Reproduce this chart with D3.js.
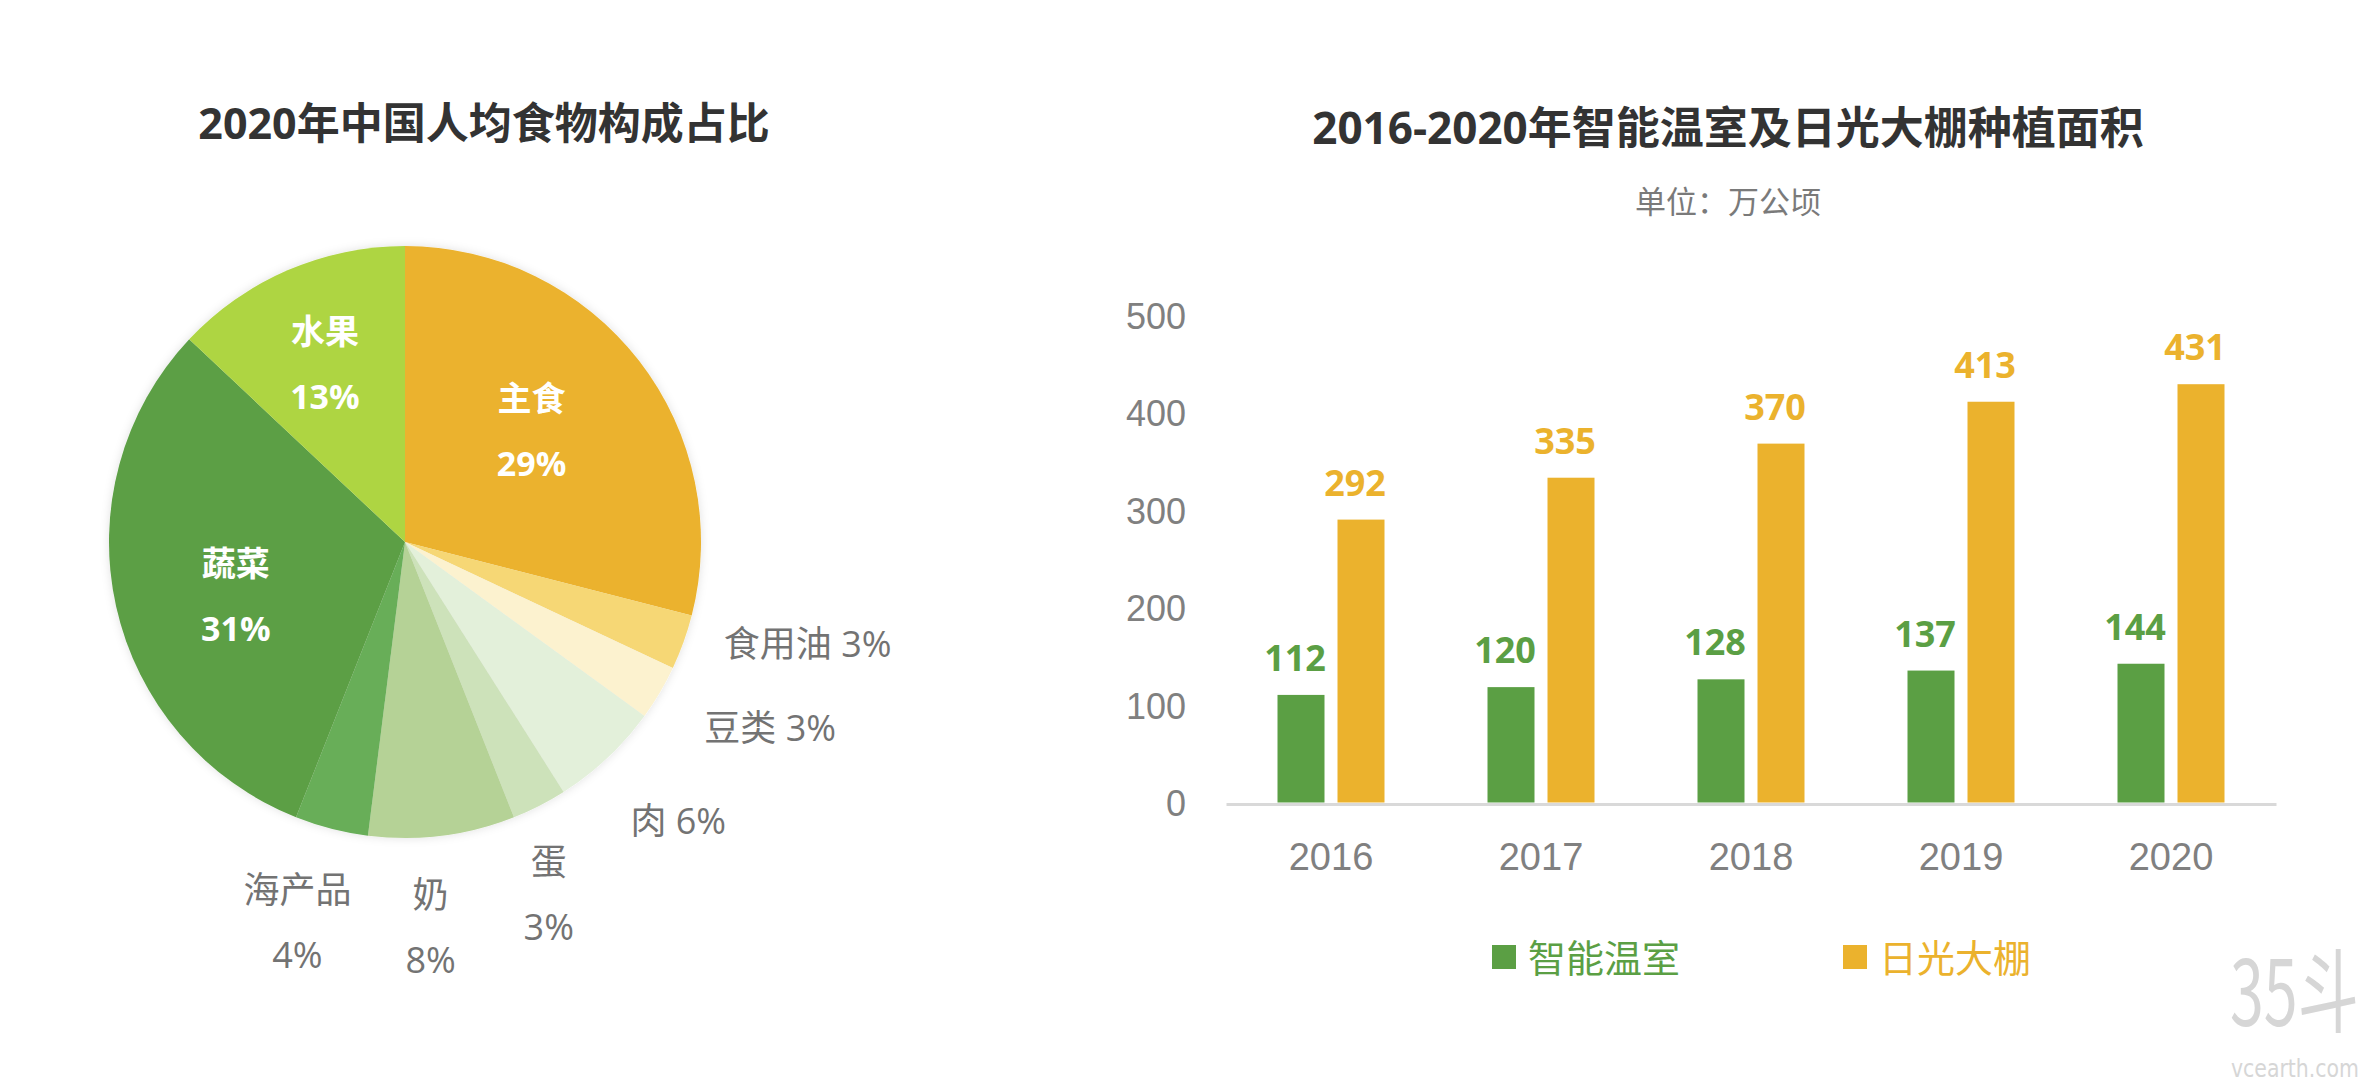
<!DOCTYPE html>
<html>
<head>
<meta charset="utf-8">
<script src="https://cdn.jsdelivr.net/npm/d3@7"></script>
<style>
  html, body { margin: 0; padding: 0; background: #fff; }
  svg { display: block; font-family: 'Open Sans', 'Noto Sans CJK SC', sans-serif; }
</style>
</head>
<body>
<div id="chart"></div>
<script>
// pie data
const foodNames = ['主食', '食用油', '豆类', '肉', '蛋', '奶', '海产品', '蔬菜', '水果']
const foodShares = [29, 3, 3, 6, 3, 8, 4, 31, 13]
const foodColors = ['#ebb22d', '#f6d774', '#fcf2cf', '#e3f0da', '#cde2ba', '#b5d296', '#67ae58', '#5b9f44', '#aed542']

// bar data
const years = ['2016', '2017', '2018', '2019', '2020']
const seriesNames = ['智能温室', '日光大棚']
const smartGreenhouse = [112, 120, 128, 137, 144]
const solarGreenhouse = [292, 335, 370, 413, 431]
const yTicks = [0, 100, 200, 300, 400, 500]
const seriesColors = ['#5b9f44', '#ebb22d']

const width = 2376
const height = 1088

const svg = d3.select('#chart')
  .append('svg')
  .attr('width', width)
  .attr('height', height)

svg.append('rect').attr('width', width).attr('height', height).attr('fill', '#fff')

const defs = svg.append('defs')
const shadow = defs.append('filter').attr('id', 'pieShadow')
  .attr('x', '-10%').attr('y', '-10%').attr('width', '120%').attr('height', '120%')
shadow.append('feDropShadow')
  .attr('dx', 0).attr('dy', 0).attr('stdDeviation', 5)
  .attr('flood-color', '#000').attr('flood-opacity', 0.12)

// ---------- pie ----------
svg.append('text')
  .attr('x', 484).attr('y', 122)
  .attr('text-anchor', 'middle')
  .attr('dominant-baseline', 'central')
  .attr('font-size', 43).attr('font-weight', 700)
  .attr('fill', '#333')
  .text('2020年中国人均食物构成占比')

const cx = 405, cy = 542, R = 296
const pieG = svg.append('g').attr('transform', `translate(${cx},${cy})`)

const pie = d3.pie().sort(null).value(d => d)
const arcs = pie(foodShares)
const arc = d3.arc().innerRadius(0).outerRadius(R)

pieG.append('g').attr('filter', 'url(#pieShadow)')
  .selectAll('path')
  .data(arcs)
  .enter()
    .append('path')
    .attr('d', arc)
    .attr('fill', (d, i) => foodColors[i])

// label placement: radius factor, angle nudge (deg), inside/outside, one or two lines
const labelPlace = {
  '主食':   { k: 0.57, da: -3.6, inside: true },
  '食用油': { k: 1.13, da: -2.2, oneLine: true },
  '豆类':   { k: 1.19, da: 1.2, oneLine: true },
  '肉':     { k: 1.21, da: 4.2, oneLine: true },
  '蛋':     { k: 1.285, da: 4.8 },
  '奶':     { k: 1.305, da: 3.4 },
  '海产品': { k: 1.335, da: 1.4 },
  '蔬菜':   { k: 0.60, da: -5.1, inside: true },
  '水果':   { k: 0.66, da: -0.8, inside: true },
}

arcs.forEach((a, i) => {
  const name = foodNames[i]
  const p = labelPlace[name]
  const theta = (a.startAngle + a.endAngle) / 2 + p.da * Math.PI / 180
  const lx = Math.sin(theta) * R * p.k
  const ly = -Math.cos(theta) * R * p.k
  const pct = foodShares[i] + '%'
  const g = pieG.append('g').attr('transform', `translate(${lx},${ly})`)
  if (p.oneLine) {
    g.append('text')
      .attr('text-anchor', 'start')
      .attr('dominant-baseline', 'central')
      .attr('font-size', 36)
      .attr('fill', '#737373')
      .text(name + ' ' + pct)
  } else {
    const lines = [name, pct]
    g.selectAll('text')
      .data(lines)
      .enter()
        .append('text')
        .attr('y', (d, j) => (j - 0.5) * 65)
        .attr('text-anchor', 'middle')
        .attr('dominant-baseline', 'central')
        .attr('font-size', p.inside ? 34 : 36)
        .attr('font-weight', p.inside ? 700 : 400)
        .attr('fill', p.inside ? '#fff' : '#737373')
        .text(d => d)
  }
})

// ---------- bars ----------
svg.append('text')
  .attr('x', 1728).attr('y', 127)
  .attr('text-anchor', 'middle')
  .attr('dominant-baseline', 'central')
  .attr('font-size', 44).attr('font-weight', 700)
  .attr('fill', '#333')
  .text('2016-2020年智能温室及日光大棚种植面积')

svg.append('text')
  .attr('x', 1728).attr('y', 201)
  .attr('text-anchor', 'middle')
  .attr('dominant-baseline', 'central')
  .attr('font-size', 31)
  .attr('fill', '#7a7a7a')
  .text('单位：万公顷')

const x = d3.scaleBand().domain(years).range([1226, 2276])
const x1 = d3.scaleBand().domain(seriesNames).range([-53.5, 53.5]).paddingInner(13 / 60)
const y = d3.scaleLinear().domain([0, 500]).range([804, 317])

const yAxis = svg.append('g')
  .attr('transform', 'translate(1186,0)')
  .call(d3.axisLeft(y).tickValues(yTicks).tickSize(0).tickPadding(0))
yAxis.select('.domain').remove()
yAxis.selectAll('text')
  .attr('font-size', 36)
  .attr('font-family', null)
  .attr('fill', '#808080')

const xAxis = svg.append('g')
  .attr('transform', 'translate(0,804)')
  .call(d3.axisBottom(x).tickSize(0).tickSizeOuter(0).tickPadding(39))
xAxis.select('.domain').attr('stroke', '#d9d9d9').attr('stroke-width', 3)
xAxis.selectAll('text')
  .attr('font-size', 38)
  .attr('font-family', null)
  .attr('fill', '#808080')

const barRows = years.map((yr, i) => ({
  year: yr,
  values: [
    { series: seriesNames[0], value: smartGreenhouse[i], color: seriesColors[0] },
    { series: seriesNames[1], value: solarGreenhouse[i], color: seriesColors[1] },
  ],
}))

const groups = svg.append('g')
  .selectAll('.group')
  .data(barRows)
  .enter()
    .append('g')
    .attr('class', 'group')
    .attr('transform', d => `translate(${x(d.year) + x.bandwidth() / 2},0)`)

groups.selectAll('rect')
  .data(d => d.values)
  .enter()
    .append('rect')
    .attr('x', d => x1(d.series))
    .attr('width', x1.bandwidth())
    .attr('y', d => y(d.value))
    .attr('height', d => y(0) - y(d.value) - 1.5)
    .attr('fill', d => d.color)

groups.selectAll('.val')
  .data(d => d.values)
  .enter()
    .append('text')
    .attr('class', 'val')
    .attr('x', d => x1(d.series) + x1.bandwidth() / 2 - 6)
    .attr('y', d => y(d.value) - 24)
    .attr('text-anchor', 'middle')
    .attr('font-size', 36).attr('font-weight', 700)
    .attr('fill', d => d.color)
    .text(d => d.value)

// legend
const legendX = [1492, 1843]
const legend = svg.append('g')
  .selectAll('g')
  .data(seriesNames)
  .enter()
    .append('g')
    .attr('transform', (d, i) => `translate(${legendX[i]},957)`)
legend.append('rect')
  .attr('x', 0).attr('y', -12)
  .attr('width', 24).attr('height', 24)
  .attr('fill', (d, i) => seriesColors[i])
legend.append('text')
  .attr('x', 36).attr('y', 0)
  .attr('dominant-baseline', 'central')
  .attr('font-size', 38)
  .attr('fill', (d, i) => seriesColors[i])
  .text(d => d)

// watermark (tall, narrow glyphs: stretch vertically)
svg.append('text')
  .attr('transform', 'translate(2230,1026) scale(1,1.5)')
  .attr('font-family', "'Noto Sans CJK SC', sans-serif")
  .attr('font-size', 61)
  .attr('fill', '#d6d6d6')
  .text('35斗')
svg.append('text')
  .attr('x', 2231).attr('y', 1077)
  .attr('font-family', "'Liberation Sans Narrow', 'DejaVu Sans Condensed', sans-serif")
  .attr('font-size', 25)
  .attr('textLength', 128).attr('lengthAdjust', 'spacingAndGlyphs')
  .attr('fill', '#d6d6d6')
  .text('vcearth.com')
</script>
</body>
</html>
